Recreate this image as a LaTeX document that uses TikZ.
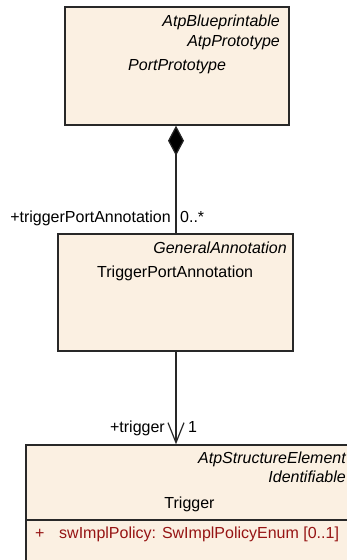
\documentclass[tikz,border=0pt]{standalone}
\usepackage{fontspec}
\setmainfont{Liberation Sans}
\usetikzlibrary{arrows.meta}

\definecolor{umlfill}{RGB}{251,240,226}
\definecolor{umlline}{RGB}{40,40,40}
\definecolor{attrred}{RGB}{150,20,20}

\begin{document}
\begin{tikzpicture}[x=1pt, y=-1pt,
  font=\fontsize{16}{19}\selectfont,
  umlbox/.style={draw=umlline, fill=umlfill, line width=1.4pt, inner sep=0pt},
  txt/.style={inner sep=0pt},
  stereo/.style={txt, anchor=base east, font=\fontsize{16}{19}\selectfont\itshape},
  assoc/.style={draw=umlline, line width=1.2pt},
]
  \useasboundingbox (0,0) rectangle (347,560);
  \clip (0,0) rectangle (347,560);
  % Klassen
  \node[umlbox, minimum width=224pt, minimum height=118pt] (port) at (177,66) {};
  \node[umlbox, minimum width=235pt, minimum height=117pt] (tpa) at (175.5,292.5) {};
  \node[umlbox, minimum width=327pt, minimum height=140pt] (trig) at (189.5,515) {};
  \draw[draw=umlline, line width=1.2pt] (26,520) -- (353,520);
  % Texte PortPrototype
  \node[stereo] (portS1) at (280,26) {AtpBlueprintable};
  \node[stereo] (portS2) at (280,46) {AtpPrototype};
  \node[txt, anchor=base west, font=\fontsize{16}{19}\selectfont\itshape] (portN) at (128,70) {PortPrototype};
  % Texte TriggerPortAnnotation
  \node[stereo] (tpaS) at (287,253) {GeneralAnnotation};
  \node[txt, anchor=base west] (tpaN) at (97,277) {TriggerPortAnnotation};
  % Texte Trigger
  \node[stereo] (trigS1) at (346,463) {AtpStructureElement};
  \node[stereo] (trigS2) at (346,482) {Identifiable};
  \node[txt, anchor=base] (trigN) at (189.5,508) {Trigger};
  \node[txt, anchor=base west, text=attrred] (attrV) at (35,538) {+};
  \node[txt, anchor=base west, text=attrred] (attrN) at (59,538) {swImplPolicy: SwImplPolicyEnum [0..1]};
  % Beziehungen
  \draw[assoc, {Diamond[length=30pt, width=16pt, fill=black]}-] (port.south -| 176,0) -- (tpa.north -| 176,0);
  \draw[assoc, -{Straight Barb[length=20pt, width=16pt, line width=1.2pt]}] (tpa.south -| 176,0) -- (trig.north -| 176,0);
  % Rollen
  \node[txt, anchor=base east] (roleA) at (171,222) {+triggerPortAnnotation};
  \node[txt, anchor=base west] (multA) at (180,222) {0..*};
  \node[txt, anchor=base east] (roleB) at (165,432) {+trigger};
  \node[txt, anchor=base west] (multB) at (188,432) {1};
\end{tikzpicture}
\end{document}
